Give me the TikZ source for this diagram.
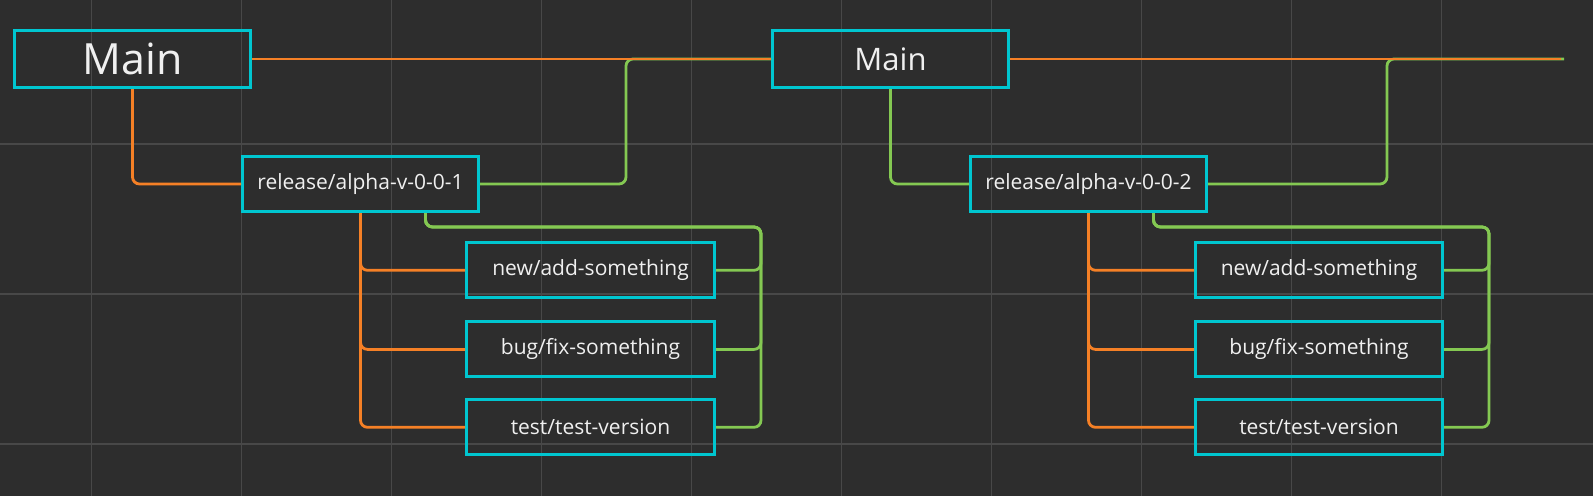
\documentclass[tikz,border=0pt]{standalone}
\usepackage{fontspec}
\setmainfont{Open Sans}
\definecolor{bgc}{RGB}{45,45,45}
\definecolor{gridc}{RGB}{72,72,72}
\definecolor{boxc}{RGB}{0,198,208}
\definecolor{orgc}{RGB}{245,128,38}
\definecolor{grnc}{RGB}{132,200,82}
\definecolor{txtc}{RGB}{240,240,240}
\tikzset{
  nbox/.style={draw=boxc, line width=3pt, inner sep=0pt, text=txtc, font=\fontsize{21}{25}\selectfont, minimum height=55pt},
  relbox/.style={nbox, minimum width=236pt},
  kidbox/.style={nbox, minimum width=248pt},
  mainbox/.style={nbox, minimum width=236pt, minimum height=57pt},
  org/.style={draw=orgc, line width=2.8pt, rounded corners=7pt},
  grn/.style={draw=grnc, line width=2.8pt, rounded corners=7pt},
  gridl/.style={draw=gridc, line width=1.2pt}
}
\begin{document}
\begin{tikzpicture}[x=1pt,y=-1pt]
\useasboundingbox (0,0) rectangle (1593,496);
\fill[bgc] (0,0) rectangle (1593,496);
% grid
\foreach \gx in {91.5,241.5,391.5,541.5,691.5,841.5,991.5,1141.5,1291.5,1441.5}
  \draw[gridl] (\gx,0) -- (\gx,496);
\foreach \gy in {144,294,444}
  \draw[gridl] (0,\gy) -- (1593,\gy);
% nodes
\node[mainbox, font=\fontsize{43}{48}\selectfont] (m1) at (132.5,59) {Main};
\node[mainbox, font=\fontsize{31}{36}\selectfont] (m2) at (890.5,59) {Main};
\node[relbox] (r1) at (360.5,184) {release/alpha-v-0-0-1};
\node[relbox] (r2) at (1088.5,184) {release/alpha-v-0-0-2};
\node[kidbox] (a1) at (590.5,270.3) {new/add-something};
\node[kidbox] (b1) at (590.5,349.4) {bug/fix-something};
\node[kidbox] (c1) at (590.5,427.3) {test/test-version};
\node[kidbox, minimum width=247pt] (a2) at (1319,270.3) {new/add-something};
\node[kidbox, minimum width=247pt] (b2) at (1319,349.4) {bug/fix-something};
\node[kidbox, minimum width=247pt] (c2) at (1319,427.3) {test/test-version};
% helper coordinates
\coordinate (j1) at (626,59);
\coordinate (j2) at (1387,59);
\coordinate (endR) at (1564,59);
\coordinate (endO) at (1561,59);
\coordinate (r1g) at ([xshift=65pt]r1.south);
\coordinate (r2g) at ([xshift=65pt]r2.south);
\coordinate (v1) at (761,227);
\coordinate (v2) at (1489,227);
% green connectors
\draw[grn] (r1.east) -| (j1) -- (m2.west);
\draw[grn] (r2.east) -| (j2) -- (endR);
\draw[grn] (m2.south) |- (r2.west);
\foreach \k in {a1,b1,c1}
  \draw[grn] (\k.east) -| (v1) -| (r1g);
\foreach \k in {a2,b2,c2}
  \draw[grn] (\k.east) -| (v2) -| (r2g);
% orange connectors
\draw[org] (m1.east) -- (m2.west);
\draw[org] (m2.east) -- (endO);
\draw[org] (m1.south) |- (r1.west);
\foreach \k in {a1,b1,c1}
  \draw[org] (r1.south) |- (\k.west);
\foreach \k in {a2,b2,c2}
  \draw[org] (r2.south) |- (\k.west);
\end{tikzpicture}
\end{document}
